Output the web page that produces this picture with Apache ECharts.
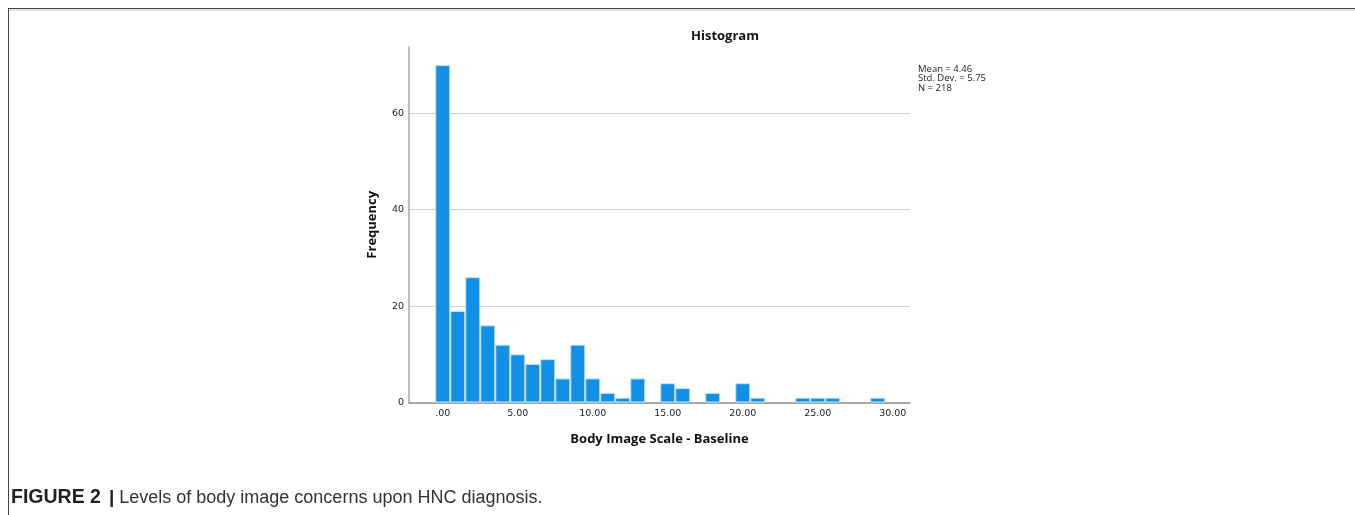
<!DOCTYPE html>
<html>
<head>
<meta charset="utf-8">
<script src="https://cdn.jsdelivr.net/npm/echarts@6/dist/echarts.min.js"></script>
<style>
  html, body { margin: 0; padding: 0; background: #fff; }
  #chart { width: 1355px; height: 515px; }
</style>
</head>
<body>
<div id="chart"></div>
<script>
// bin centres (Body Image Scale score) and counts per bin
const binCenters = [0, 1, 2, 3, 4, 5, 6, 7, 8, 9, 10, 11, 12, 13, 14, 15, 16, 17, 18, 19, 20, 21, 22, 23, 24, 25, 26, 27, 28, 29];
const frequency = [70, 19, 26, 16, 12, 10, 8, 9, 5, 12, 5, 2, 1, 5, 0, 4, 3, 0, 2, 0, 4, 1, 0, 0, 1, 1, 1, 0, 0, 1];
const statsLines = ["Mean = 4.46", "Std. Dev. = 5.75", "N = 218"];

const chart = echarts.init(document.getElementById("chart"));

// 空的柱子不画
const barData = binCenters
  .map((x, i) => [x, frequency[i]])
  .filter((d) => d[1] > 0);

const labelFont = "DejaVu Sans";
const boldFont = "Open Sans";

chart.setOption({
  animation: false,
  backgroundColor: "#fff",
  grid: {
    left: 409,
    right: 445,
    top: 47,
    bottom: 112.5,
    containLabel: false,
    outerBoundsMode: "none",
  },
  xAxis: {
    type: "value",
    min: -2.25,
    max: 31.15,
    name: "Body Image Scale - Baseline",
    nameLocation: "middle",
    nameGap: 30,
    nameTextStyle: {
      fontFamily: boldFont,
      fontWeight: "bold",
      fontSize: 13,
      color: "#111",
    },
    axisLine: { show: true, onZero: false, lineStyle: { color: "#8a8a8a", width: 1.5 } },
    axisTick: { show: false },
    splitLine: { show: false },
    axisLabel: {
      showMinLabel: false,
      showMaxLabel: false,
      fontFamily: labelFont,
      fontSize: 9.5,
      color: "#222",
      margin: 6,
      formatter: (v) => (v === 0 ? ".00" : v.toFixed(2)),
    },
  },
  yAxis: {
    type: "value",
    min: 0,
    max: 73.75,
    interval: 20,
    name: "Frequency",
    nameLocation: "middle",
    nameGap: 30,
    nameTextStyle: {
      fontFamily: boldFont,
      fontWeight: "bold",
      fontSize: 13,
      color: "#111",
    },
    axisLine: { show: true, onZero: false, lineStyle: { color: "#a8a8a8", width: 1.5 } },
    axisTick: { show: false },
    axisLabel: {
      showMaxLabel: false,
      fontFamily: labelFont,
      fontSize: 9.5,
      color: "#222",
      margin: 5,
    },
    splitLine: {
      show: true,
      showMinLine: false,
      showMaxLine: false,
      lineStyle: { color: "#d2d2d2", width: 1.2 },
    },
  },
  series: [
    {
      type: "bar",
      data: barData,
      barWidth: 15,
      itemStyle: {
        color: "#1290e6",
        borderColor: "#c4e2f8",
        borderWidth: 1,
      },
    },
  ],
  graphic: [
    // 外框
    {
      type: "line",
      shape: { x1: 8, y1: 8.5, x2: 1355, y2: 8.5 },
      style: { stroke: "#444", lineWidth: 1.2 },
    },
    {
      type: "line",
      shape: { x1: 9, y1: 10, x2: 1355, y2: 10 },
      style: { stroke: "#c8c8c8", lineWidth: 1 },
    },
    {
      type: "line",
      shape: { x1: 8.5, y1: 8, x2: 8.5, y2: 515 },
      style: { stroke: "#444", lineWidth: 1 },
    },
    {
      type: "text",
      x: 725,
      y: 36,
      style: {
        text: "Histogram",
        fontFamily: boldFont,
        fontWeight: "bold",
        fontSize: 13,
        fill: "#111",
        align: "center",
        verticalAlign: "middle",
      },
    },
    {
      type: "text",
      x: 918,
      y: 64,
      style: {
        text: statsLines.join("\n"),
        fontFamily: boldFont,
        fontSize: 9.5,
        lineHeight: 9.7,
        fill: "#222",
        align: "left",
        verticalAlign: "top",
      },
    },
    {
      type: "text",
      x: 11,
      y: 498,
      style: {
        text: "{b|FIGURE 2}{s||}{n|Levels of body image concerns upon HNC diagnosis.}",
        verticalAlign: "middle",
        rich: {
          b: {
            fontFamily: "Liberation Sans",
            fontWeight: "bold",
            fontSize: 19.5,
            fill: "#222",
          },
          s: {
            fontFamily: "Liberation Sans",
            fontWeight: "bold",
            fontSize: 19,
            fill: "#222",
            padding: [0, 5, 0, 8],
          },
          n: {
            fontFamily: "Liberation Sans",
            fontSize: 18,
            fill: "#333",
          },
        },
      },
    },
  ],
});
</script>
</body>
</html>
